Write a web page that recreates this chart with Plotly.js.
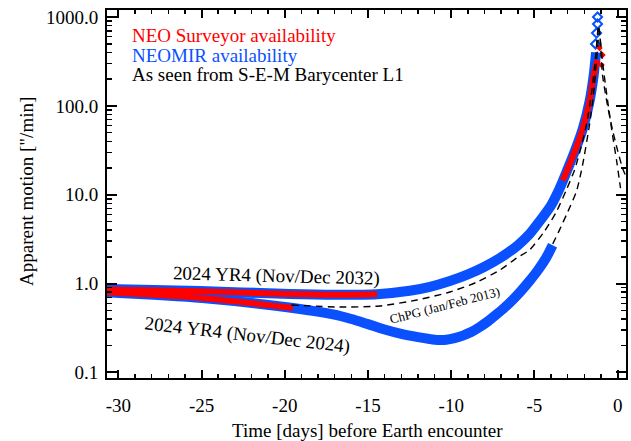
<!DOCTYPE html>
<html>
<head>
<meta charset="utf-8">
<script src="https://cdn.plot.ly/plotly-3.0.1.min.js"></script>
<style>html,body{margin:0;padding:0;background:#fff;}#chart{width:631px;height:441px;}</style>
</head>
<body>
<div id="chart"></div>
<script>
// ---- data (days before Earth encounter, apparent motion in "/min) ----
const days2032Blue = [-30.68, -25.09, -19.69, -17.0, -14.46, -12.5, -11.28, -10.08, -9.0, -8.0, -7.0, -6.0, -5.3, -4.7, -4.0, -3.6, -3.3, -3.0, -2.6, -2.1, -1.7, -1.45, -1.3];
const motion2032Blue = [0.87, 0.826, 0.764, 0.75, 0.76, 0.83, 0.92, 1.07, 1.27, 1.55, 1.98, 2.7, 3.6, 5.0, 7.6, 10.6, 14.2, 19.5, 30, 55, 110, 215, 400];

const days2032Red1 = [-30.68, -25.09, -19.69, -17.0, -14.46];
const motion2032Red1 = [0.86, 0.82, 0.764, 0.75, 0.76];
const days2032Red2 = [-3.3, -3.0, -2.6, -2.1, -1.7, -1.45, -1.3, -1.21];
const motion2032Red2 = [14.5, 19.5, 30, 55, 110, 215, 290, 328];

const daysPeakBlue = [-1.33, -1.27, -1.21, -1.21];
const motionPeakBlue = [497, 660, 834, 1000];
const daysPeakRed = [-1.09, -0.91, -0.97];
const motionPeakRed = [448, 373, 288];

const days2024Blue = [-30.68, -24.96, -19.51, -17.1, -16.0, -15.0, -14.0, -13.0, -12.0, -11.3, -10.8, -10.3, -9.8, -9.3, -8.8, -8.3, -7.8, -7.3, -6.8, -6.3, -5.8, -5.3, -4.8, -4.3, -3.91];
const motion2024Blue = [0.80, 0.689, 0.531, 0.45, 0.40, 0.35, 0.305, 0.272, 0.25, 0.238, 0.232, 0.233, 0.243, 0.26, 0.285, 0.324, 0.376, 0.447, 0.537, 0.66, 0.83, 1.07, 1.41, 1.95, 2.7];
const days2024Red = [-30.68, -24.96, -19.51];
const motion2024Red = [0.80, 0.689, 0.531];

const daysChPG = [-19.6, -16.69, -14.29, -12.06, -10.08, -8.46, -7.08, -6.07, -5.29, -4.39, -3.67, -3.07, -2.59, -2.17, -1.87, -1.57, -1.33, -1.15, -0.91, -0.61, -0.31, -0.07, 0.17];
const motionChPG = [0.575, 0.545, 0.56, 0.654, 0.804, 1.04, 1.42, 1.94, 2.4, 3.9, 6.5, 11.5, 19, 36, 62, 140, 350, 800, 312, 116, 47, 24.6, 11.9];

const days2024Full = [-3.9, -3.5, -3.07, -2.47, -2.1, -1.69, -1.45, -1.27, -1.1, -0.91, -0.61, -0.31, -0.01, 0.29, 0.5];
const motion2024Full = [2.8, 4.0, 6.0, 11, 22, 62, 135, 330, 700, 222, 101, 53.6, 31.8, 20, 16];

const xTickVals = [-30, -25, -20, -15, -10, -5, 0];
const xTickText = ['-30', '-25', '-20', '-15', '-10', '-5', '0'];
const yTickVals = [0.1, 1, 10, 100, 1000];
const yTickText = ['0.1', '1.0', '10.0', '100.0', '1000.0'];

const BLUE = '#0a50ff';
const RED = '#ff0000';
const FONT = '"Liberation Serif", "Times New Roman", serif';

const yMinor = [];
[0.1, 1, 10, 100, 1000].forEach(function (d) { for (let k = 2; k <= 9; k++) yMinor.push(d * k); });

const traces = [
  {x: days2032Blue, y: motion2032Blue, mode: 'lines', line: {color: BLUE, width: 10, shape: 'spline', smoothing: 0.8}},
  {x: days2024Blue, y: motion2024Blue, mode: 'lines', line: {color: BLUE, width: 10, shape: 'spline', smoothing: 0.8}},
  {x: daysPeakBlue, y: motionPeakBlue, mode: 'markers', marker: {symbol: 'diamond-open', size: 7, color: BLUE, line: {width: 2, color: BLUE}}},
  {x: days2032Red1, y: motion2032Red1, mode: 'lines', line: {color: RED, width: 6, shape: 'spline', smoothing: 0.8}},
  {x: days2024Red, y: motion2024Red, mode: 'lines', line: {color: RED, width: 6, shape: 'spline', smoothing: 0.8}},
  {x: days2032Red2, y: motion2032Red2, mode: 'lines', line: {color: RED, width: 6, shape: 'spline', smoothing: 0.8}},
  {x: daysPeakRed, y: motionPeakRed, mode: 'markers', marker: {symbol: 'diamond', size: 5, color: RED}},
  {x: daysChPG, y: motionChPG, mode: 'lines', line: {color: 'black', width: 1.4, dash: '7px,5px', shape: 'spline', smoothing: 0.6}},
  {x: days2024Full, y: motion2024Full, mode: 'lines', line: {color: 'black', width: 1.4, dash: '7px,5px', shape: 'spline', smoothing: 0.6}}
];

function px(x) { return (x - 107) / 519; }
function py(y) { return (378 - y) / 368; }

const annotations = [
  {xref: 'paper', yref: 'paper', x: px(130), y: py(36), xanchor: 'left', yanchor: 'middle', showarrow: false, text: 'NEO Surveyor availability', font: {family: FONT, size: 19, color: RED}},
  {xref: 'paper', yref: 'paper', x: px(130), y: py(55), xanchor: 'left', yanchor: 'middle', showarrow: false, text: 'NEOMIR availability', font: {family: FONT, size: 19, color: BLUE}},
  {xref: 'paper', yref: 'paper', x: px(130), y: py(75), xanchor: 'left', yanchor: 'middle', showarrow: false, text: 'As seen from S-E-M Barycenter L1', font: {family: FONT, size: 19, color: 'black'}},
  {xref: 'paper', yref: 'paper', x: px(276), y: py(276), xanchor: 'center', yanchor: 'middle', showarrow: false, textangle: 1.5, text: '2024 YR4 (Nov/Dec 2032)', font: {family: FONT, size: 19, color: 'black'}},
  {xref: 'paper', yref: 'paper', x: px(247), y: py(335), xanchor: 'center', yanchor: 'middle', showarrow: false, textangle: 6.5, text: '2024 YR4 (Nov/Dec 2024)', font: {family: FONT, size: 19, color: 'black'}},
  {xref: 'paper', yref: 'paper', x: px(444), y: py(305), xanchor: 'center', yanchor: 'middle', showarrow: false, textangle: -14.5, text: 'ChPG (Jan/Feb 2013)', font: {family: FONT, size: 13, color: 'black'}},
  {xref: 'paper', yref: 'paper', x: px(367), y: py(430), xanchor: 'center', yanchor: 'middle', showarrow: false, text: 'Time [days] before Earth encounter', font: {family: FONT, size: 19, color: 'black'}},
  {xref: 'paper', yref: 'paper', x: px(26), y: py(192), xanchor: 'center', yanchor: 'middle', showarrow: false, textangle: -90, text: 'Apparent motion ["/min]', font: {family: FONT, size: 19, color: 'black'}}
];

const layout = {
  width: 631, height: 441,
  margin: {l: 107, r: 5, t: 10, b: 63, pad: 0},
  paper_bgcolor: 'white', plot_bgcolor: 'white',
  showlegend: false,
  font: {family: FONT, size: 19, color: 'black'},
  xaxis: {
    range: [-30.68, 0.5], showgrid: false, zeroline: false,
    showline: true, linecolor: 'black', linewidth: 2, mirror: 'ticks',
    ticks: 'inside', ticklen: 8, tickwidth: 2, tickcolor: 'black',
    tickmode: 'array', tickvals: xTickVals, ticktext: xTickText,
    tickfont: {family: FONT, size: 19, color: 'black'}, ticklabelstandoff: 9,
    minor: {ticks: 'inside', ticklen: 4, tickwidth: 1.5, tickcolor: 'black', dtick: 1, tick0: 0, showgrid: false}
  },
  yaxis: {
    type: 'log', range: [-1.062, 3.079], showgrid: false, zeroline: false,
    showline: true, linecolor: 'black', linewidth: 2, mirror: 'ticks',
    ticks: 'inside', ticklen: 10, tickwidth: 2, tickcolor: 'black',
    tickmode: 'array', tickvals: yTickVals, ticktext: yTickText,
    tickfont: {family: FONT, size: 19, color: 'black'}, ticklabelstandoff: 3,
    minor: {ticks: 'inside', ticklen: 5, tickwidth: 1.5, tickcolor: 'black', tickmode: 'array', tickvals: yMinor, showgrid: false}
  },
  annotations: annotations
};

Plotly.newPlot('chart', traces, layout, {displayModeBar: false, staticPlot: true});
</script>
</body>
</html>
